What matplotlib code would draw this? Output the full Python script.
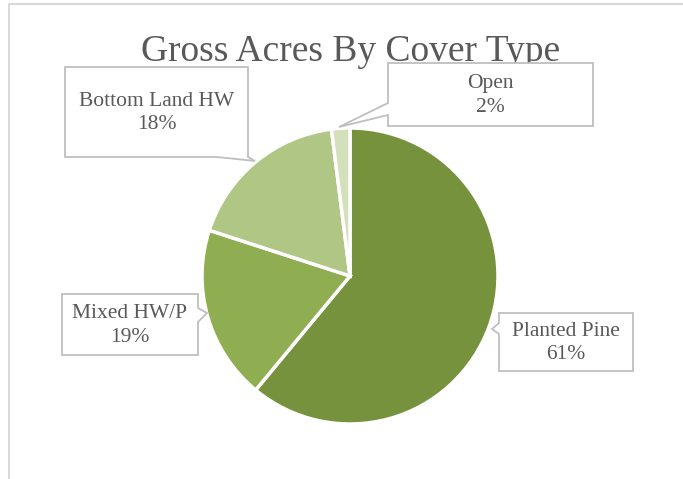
import matplotlib.pyplot as plt
from matplotlib.patches import Polygon

# data
labels = ["Planted Pine", "Mixed HW/P", "Bottom Land HW", "Open"]
shares = [61, 19, 18, 2]
colors = ["#77923C", "#8FAE52", "#AFC685", "#D3E0BA"]

W, H = 683, 479
TXT = "#595959"
FONT = "Liberation Serif"


def fy(y):
    # pixel row (from top) to data y
    return H - y


def callout(ax, box, tail, tip):
    # box = (x0, y0, x1, y1) in pixels from top-left
    # tail = (side, a, b): tail base along a side, tip = point of the pointer
    x0, y0, x1, y1 = box
    side, a, b = tail
    if side == "bottom":
        pts = [(x0, y0), (x1, y0), (x1, y1), (b, y1), tip, (a, y1), (x0, y1)]
    elif side == "left":
        pts = [(x0, y0), (x1, y0), (x1, y1), (x0, y1), (x0, b), tip, (x0, a)]
    else:  # right
        pts = [(x0, y0), (x1, y0), (x1, a), tip, (x1, b), (x1, y1), (x0, y1)]
    pts = [(px, fy(py)) for px, py in pts]
    ax.add_patch(Polygon(pts, closed=True, facecolor="white",
                         edgecolor="#BFBFBF", linewidth=1.3, zorder=3))


fig = plt.figure(figsize=(W / 100, H / 100), dpi=100)
ax = fig.add_axes([0, 0, 1, 1])

ax.pie(shares, colors=colors, startangle=90, counterclock=False,
       center=(350, fy(276)), radius=148, frame=True,
       wedgeprops=dict(edgecolor="white", linewidth=2.5))
ax.set_xlim(0, W)
ax.set_ylim(0, H)
ax.set_aspect("equal")
ax.axis("off")

# chart frame (cropped at right/bottom)
ax.plot([9, 9, W], [0, fy(4), fy(4)], color="#D9D9D9", linewidth=1.5)

ax.text(351, fy(52), "Gross Acres By Cover Type", ha="center", va="center",
        fontsize=27, color=TXT, family=FONT)

boxes = {
    "Planted Pine": ((499, 313, 633, 371), ("left", 323, 334), (492, 329)),
    "Mixed HW/P": ((62, 294, 198, 355), ("right", 308, 322), (207, 313)),
    "Bottom Land HW": ((65, 67, 248, 157), ("bottom", 217, 248), (255, 161)),
    "Open": ((388, 63, 593, 126), ("left", 103, 115), (339, 127)),
}

for lab, val in zip(labels, shares):
    box, tail, tip = boxes[lab]
    callout(ax, box, tail, tip)
    cx = (box[0] + box[2]) / 2
    cy = (box[1] + box[3]) / 2 + 1
    ax.text(cx, fy(cy), f"{lab}\n{val}%", ha="center", va="center",
            fontsize=15.5, color=TXT, family=FONT, linespacing=1.3, zorder=4)

plt.savefig("out.png", dpi=100)
